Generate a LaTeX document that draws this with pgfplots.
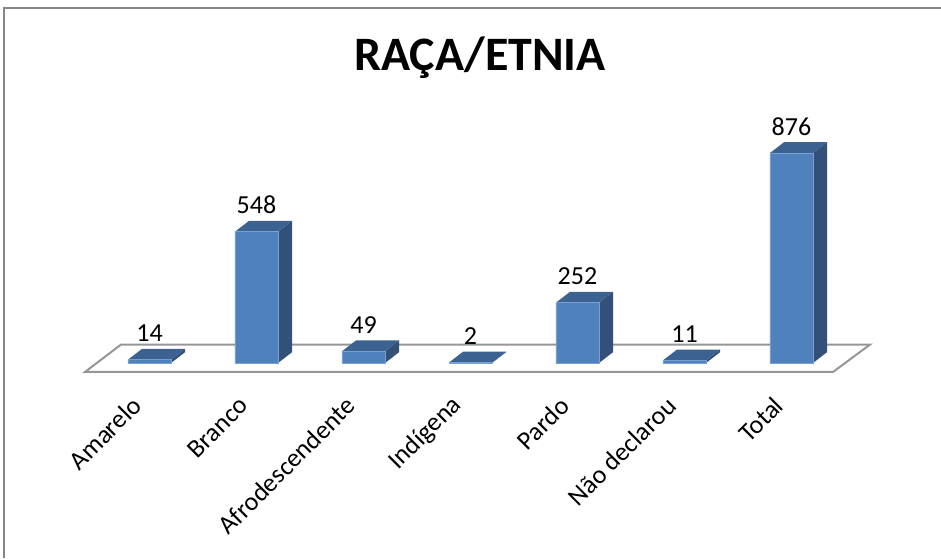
\documentclass[border=0pt]{standalone}
\usepackage{fontspec}
\setmainfont{Carlito}
\usepackage{pgfplots}
\usepackage{pgfplotstable}
\pgfplotsset{compat=1.18}

\definecolor{frontblue}{RGB}{79,129,189}
\definecolor{topblue}{RGB}{60,98,145}
\definecolor{sideblue}{RGB}{50,80,120}
\definecolor{edgeblue}{RGB}{120,160,210}
\definecolor{floorgray}{RGB}{150,150,150}
\definecolor{framegray}{RGB}{134,134,134}

% raca/etnia counts
\pgfplotstableread{
x v
0 14
1 548
2 49
3 2
4 252
5 11
6 876
}\data

% depth of the 3d bars, in axis units
\def\hw{0.201}
\def\dx{0.131}
\def\dy{45}

% side and top faces of one bar: #1 = x, #2 = value
\newcommand\barfaces[2]{%
  \pgfmathsetmacro\xl{#1-\hw}%
  \pgfmathsetmacro\xr{#1+\hw}%
  \pgfmathsetmacro\xrd{#1+\hw+\dx}%
  \pgfmathsetmacro\xld{#1-\hw+\dx}%
  \pgfmathsetmacro\vd{#2+\dy}%
  \edef\tmp{%
    \noexpand\addplot[fill=sideblue, draw=none] coordinates {(\xr,0) (\xrd,\dy) (\xrd,\vd) (\xr,#2)} -- cycle;
    \noexpand\addplot[fill=topblue, draw=none] coordinates {(\xl,#2) (\xr,#2) (\xrd,\vd) (\xld,\vd)} -- cycle;
  }\tmp
}

\begin{document}
\begin{tikzpicture}
\useasboundingbox (0,0) rectangle (470.5pt,279pt);
\draw[framegray, line width=1pt] (2pt,0) -- (2pt,275pt) -- (471pt,275pt);
\node[font=\fontsize{24}{28}\selectfont\bfseries] at (240pt,250pt) {RAÇA/ETNIA};

\begin{axis}[
    at={(21.25pt,79pt)}, anchor=south west,
    scale only axis,
    width=428pt, height=150pt,
    xmin=-1, xmax=7,
    ymin=-154.4, ymax=1097.2,
    axis line style={draw=none},
    tick style={draw=none},
    ytick=\empty,
    xtick={0,...,6},
    xticklabels={Amarelo,Branco,Afrodescendente,Indígena,Pardo,Não declarou,Total},
    xticklabel style={rotate=45, anchor=east, font=\fontsize{13}{15}\selectfont,
        xshift=-1.5pt, yshift=4pt},
    /pgf/number format/assume math mode=true,
    clip=false,
]
% floor
\addplot[draw=floorgray, line width=1pt] coordinates
    {(-0.603,-37.5) (6.388,-37.5) (6.734,77) (-0.266,77)} -- cycle;

% side and top faces
\pgfplotsinvokeforeach{0,...,6}{%
  \pgfplotstablegetelem{#1}{v}\of\data
  \edef\val{\pgfplotsretval}%
  \barfaces{#1}{\val}
}

% front faces
\addplot[ybar, bar width=0.402, fill=frontblue, draw=edgeblue, line width=0.3pt]
    table[x=x, y=v] {\data};

% value labels
\addplot[draw=none, mark=none, nodes near coords, point meta=explicit,
    nodes near coords style={anchor=base, font=\fontsize{13}{15}\selectfont, inner sep=0pt}]
    table[x=x, y expr=\thisrow{v}+\dy+30, meta=v] {\data};
\end{axis}
\end{tikzpicture}
\end{document}
